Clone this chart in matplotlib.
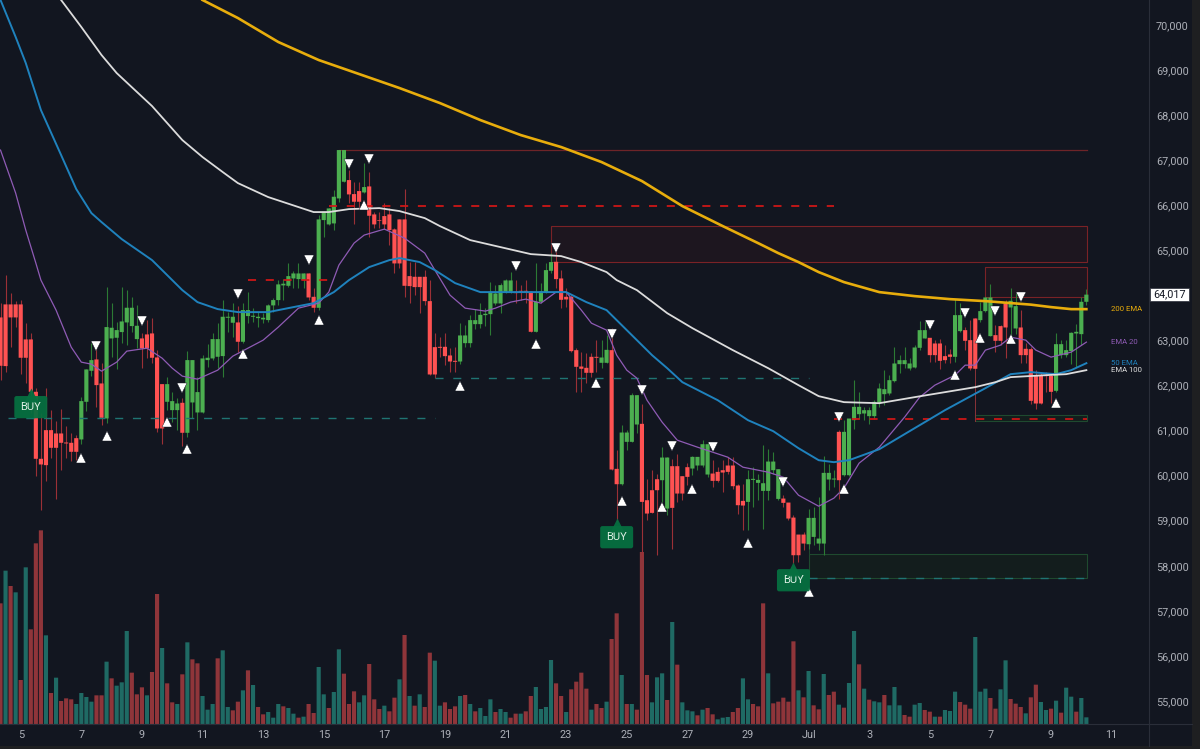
import matplotlib
matplotlib.use("Agg")

import matplotlib.pyplot as plt
from matplotlib.patches import Rectangle
from matplotlib.transforms import blended_transform_factory

plt.rcParams["font.family"] = ["Roboto", "DejaVu Sans"]
plt.rcParams["lines.scale_dashes"] = False

# 4h candles
opens = [63511, 63800, 63800, 63800, 63800, 63023, 63023, 61861, 60374, 61010,
         61010, 60936, 60936, 60736, 60729, 60832, 60803, 61639, 62327, 62579,
         62046, 61269, 63045, 63060, 63186, 63400, 63319, 63030, 63045, 63134,
         63156, 62623, 62031, 61639, 61454, 61454, 61617, 60951, 61624, 61402,
         61402, 62564, 62601, 62638, 62653, 63504, 63393, 63400, 62971, 63541,
         63526, 63496, 63467, 63452, 63778, 63896, 64222, 64213, 64376, 64361,
         64339, 64487, 63969, 63725, 65671, 65575, 65597, 66152, 66522, 66559,
         66248, 66315, 66285, 66418, 65797, 65671, 65760, 65797, 65464, 65686,
         65686, 64428, 64413, 64413, 64413, 63873, 62852, 62859, 62859, 62667,
         62548, 62533, 62940, 62940, 63362, 63362, 63562, 63584, 63821, 63821,
         64080, 64080, 64080, 64102, 64102, 64080, 63192, 63858, 64065, 64546,
         64746, 64376, 63969, 63969, 62785, 62422, 62393, 62637, 62637, 62504,
         62504, 62785, 60151, 59810, 60750, 60750, 61135, 61150, 59455, 59677,
         59921, 59899, 59270, 60210, 60210, 59988, 60188, 60158, 60225, 60225,
         60025, 60047, 60084, 60121, 60225, 60225, 59781, 59440, 59418, 59906,
         59840, 59662, 59662, 60121, 59484, 59492, 59403, 59070, 58693, 58693,
         58478, 58641, 58493, 58493, 59914, 59914, 60972, 60010, 60010, 61231,
         61364, 61379, 61320, 61320, 61616, 61808, 61823, 62097, 62474, 62474,
         62378, 62400, 62837, 63044, 63059, 62933, 62933, 62652, 62689, 62637,
         63207, 63229, 63007, 63488, 63451, 63651, 63096, 63118, 63318, 63821,
         63732, 63266, 63288, 62815, 62807, 62230, 62230, 62230, 62215, 61882,
         62674, 62674, 62763, 63155, 63140, 63858]
closes = [62438, 62431, 63511, 63511, 62616, 62616, 61861, 60374, 60248, 60233,
          60618, 60618, 60729, 60714, 60529, 60529, 61654, 62357, 62564, 62009,
          61284, 63297, 63282, 63230, 63422, 63726, 63726, 63326, 62823, 62823,
          62616, 61047, 61047, 62031, 61654, 61602, 60951, 62564, 62564, 61854,
          62601, 62616, 63030, 63030, 63526, 63526, 63526, 62971, 63674, 63674,
          63548, 63526, 63504, 63778, 63896, 64244, 64259, 64428, 64487, 64487,
          64487, 63954, 63725, 65686, 65856, 65930, 66189, 67225, 67225, 66241,
          66078, 66078, 66404, 65767, 65575, 65656, 65575, 65449, 64709, 64709,
          64213, 64206, 64184, 64184, 63873, 62245, 62245, 62837, 62652, 62533,
          62526, 63111, 63111, 63451, 63451, 63569, 63592, 64080, 64043, 64228,
          64332, 64332, 64050, 64080, 64080, 63192, 63858, 64087, 64561, 64739,
          64361, 63902, 63910, 62763, 62415, 62371, 62282, 62282, 62615, 62622,
          62792, 60136, 59810, 60957, 60957, 61786, 61786, 59418, 59159, 59174,
          59677, 60402, 60402, 59285, 59603, 59603, 59973, 60417, 60417, 60698,
          60698, 59884, 59884, 60069, 60084, 59766, 59344, 59337, 59921, 59929,
          59906, 59832, 60313, 60313, 60143, 59396, 59048, 58234, 58234, 58493,
          59063, 59063, 58604, 60062, 60062, 59936, 59899, 60972, 61268, 61527,
          61527, 61453, 61453, 61638, 61934, 61919, 62119, 62489, 62563, 62563,
          62489, 62844, 63229, 63229, 62674, 62674, 62548, 62563, 62637, 63562,
          63562, 62992, 62378, 62371, 63651, 63954, 63954, 62992, 62992, 63288,
          63880, 63762, 62674, 62674, 61660, 61601, 61601, 62208, 61860, 62918,
          62918, 62785, 63170, 63192, 63858, 64017]
highs = [63822, 64450, 64044, 63874, 63896, 63393, 63171, 61935, 61380, 61935,
         61454, 61210, 61469, 61106, 60936, 60899, 61750, 62357, 62934, 62823,
         62490, 64177, 63822, 63415, 64177, 64118, 63970, 63785, 63156, 63452,
         63489, 62786, 62031, 62194, 61861, 61713, 61713, 62771, 62564, 62194,
         62675, 62912, 63171, 63378, 63896, 63637, 63822, 63763, 63837, 64081,
         63711, 63637, 63600, 63800, 63933, 64340, 64355, 64709, 64550, 64709,
         64487, 64487, 64154, 65782, 65856, 65930, 66337, 67225, 67225, 66781,
         66522, 66522, 66929, 66744, 65856, 65856, 66041, 65930, 65486, 65686,
         66352, 64746, 64746, 64413, 64561, 64339, 63170, 63081, 63155, 62822,
         62844, 63377, 63333, 63562, 63695, 63821, 63710, 64302, 64228, 64265,
         64354, 64524, 64339, 64228, 64339, 64095, 64724, 64265, 64709, 64931,
         65123, 64561, 64154, 64006, 62822, 62748, 62711, 62711, 63007, 63007,
         63118, 63266, 60565, 61135, 61009, 61823, 61786, 61601, 59936, 60121,
         60047, 60639, 60417, 60380, 60491, 59988, 60284, 60432, 60417, 60802,
         60750, 60343, 60195, 60343, 60417, 60417, 59825, 59825, 60121, 60195,
         60047, 60676, 60602, 60528, 60158, 59566, 59403, 59122, 58693, 58752,
         59270, 59307, 59529, 60432, 60269, 60121, 61009, 61231, 61268, 62119,
         61860, 61527, 61527, 61675, 62060, 62341, 62230, 62859, 62674, 62859,
         62600, 62896, 63436, 63436, 63059, 63007, 63022, 62896, 62800, 63910,
         63821, 63303, 63451, 63488, 63858, 63969, 64243, 63340, 63340, 63895,
         64169, 64043, 63673, 62933, 62859, 62341, 62304, 62304, 62267, 63170,
         63007, 63007, 63192, 63362, 63969, 64132]
lows = [62120, 62305, 62860, 63304, 62246, 62046, 61380, 59996, 59234, 59878,
        60381, 59471, 60122, 60381, 60322, 60344, 60692, 61439, 62209, 61528,
        61121, 61158, 62638, 62357, 62934, 62897, 63193, 62823, 62379, 62601,
        62490, 60973, 60692, 61454, 61195, 61010, 60662, 60862, 61269, 61010,
        61380, 62416, 62564, 62379, 62194, 63193, 63082, 62749, 62934, 63378,
        63415, 63304, 63378, 63415, 63637, 63785, 63896, 64191, 64154, 64154,
        64154, 63895, 63621, 63673, 65301, 65560, 65449, 66063, 66522, 66041,
        65582, 65967, 66263, 65286, 65486, 65486, 65464, 65116, 64487, 64598,
        63969, 63821, 64006, 63599, 63784, 62230, 62171, 62637, 62452, 62304,
        62304, 62474, 62859, 62859, 63244, 63266, 63318, 63118, 63784, 63599,
        64058, 64043, 63821, 63895, 63821, 63185, 63192, 63821, 64043, 64487,
        64154, 63710, 63747, 62748, 61860, 61860, 62045, 62193, 62304, 62378,
        62489, 60121, 58974, 59788, 60565, 60750, 60950, 58197, 59011, 59174,
        58234, 59418, 59122, 58382, 59418, 59455, 59788, 60010, 60121, 60195,
        59973, 59751, 59862, 59640, 60047, 59714, 59159, 58789, 58789, 59307,
        59455, 58826, 59455, 60047, 59455, 59307, 59011, 58049, 58086, 58345,
        58382, 58456, 58345, 58234, 59677, 59751, 59492, 59988, 59988, 61046,
        61268, 61231, 61157, 61268, 61527, 61564, 61786, 62082, 62267, 62378,
        62341, 62378, 62785, 63044, 62526, 62526, 62363, 62489, 62504, 62526,
        63192, 62785, 62341, 62356, 63414, 63636, 63096, 62748, 62896, 62600,
        62933, 63140, 62489, 62489, 61601, 61468, 61586, 61860, 61616, 61860,
        62600, 62637, 62474, 62400, 62896, 63784]

# volume in arbitrary units, its colour does not follow the candle colour
volumes = [362, 460, 414, 395, 132, 470, 284, 542, 581, 266,
           93, 139, 69, 77, 74, 60, 93, 81, 67, 86,
           86, 187, 137, 115, 125, 279, 154, 89, 110, 86,
           156, 390, 228, 122, 65, 60, 149, 245, 194, 182,
           84, 43, 60, 197, 221, 51, 41, 67, 101, 161,
           117, 51, 29, 36, 19, 60, 53, 48, 31, 19,
           22, 60, 33, 171, 89, 48, 96, 224, 151, 60,
           98, 65, 86, 180, 74, 45, 55, 38, 79, 134,
           267, 84, 55, 89, 51, 214, 190, 55, 65, 45,
           53, 84, 87, 60, 38, 48, 24, 74, 36, 45,
           36, 19, 31, 31, 38, 84, 111, 45, 51, 192,
           122, 84, 36, 104, 127, 154, 106, 43, 60, 48,
           67, 255, 332, 147, 60, 60, 43, 516, 147, 65,
           140, 152, 72, 306, 178, 65, 41, 38, 26, 43,
           48, 29, 14, 19, 21, 36, 48, 137, 74, 60,
           53, 362, 152, 62, 67, 79, 67, 248, 101, 80,
           159, 56, 44, 150, 87, 97, 58, 49, 123, 279,
           179, 106, 73, 68, 65, 87, 56, 111, 56, 27,
           22, 58, 63, 42, 37, 22, 22, 42, 39, 97,
           66, 58, 46, 261, 97, 106, 78, 46, 104, 191,
           75, 61, 51, 32, 80, 118, 66, 42, 46, 70,
           34, 109, 82, 37, 78, 20]
volume_sides = ("RGRGRGRRRG" "RGRRRGGGGR" "RGRGGGRRRG" "RRGRRGRGRR"
                "GGGRGGRRGR" "GRRGGGRGGR" "GRRGGRGGRR" "RGGRRRGRRG"
                "RGRGRRGGRR" "RGRGRGGGRG" "GRRGRRGGGG" "RRGRRRRGRR"
                "GRRGRGRRRG" "GGRGRGGGRG" "RRGGGRRGGR" "RRGRRRRRGR"
                "GRRGRRGRGG" "RGRGGRGGGR" "RGGRRGRGGG" "RRRGGGRRGG"
                "RRRGRRGGRG" "RGGRGG")

# moving averages, sampled at these candle indexes
ema200_idx = [40, 47, 55, 63, 71, 79, 87, 95, 103, 111, 119, 127, 135, 143, 150, 154, 158, 162,
              167, 174, 181, 188, 195, 204, 208, 212, 215]
ema200 = [70555, 70155, 69623, 69223, 68912, 68601, 68268, 67891, 67558, 67292, 66959, 66537,
          65982, 65538, 65160, 64938, 64739, 64517, 64295, 64073, 63984, 63917, 63873, 63795,
          63740, 63695, 63695]
ema100_idx = [12, 16, 20, 23, 30, 36, 40, 44, 47, 53, 59, 62, 65, 69, 75, 79, 84, 87, 93, 105,
              111, 115, 120, 122, 126, 132, 137, 145, 152, 158, 162, 167, 174, 181, 187, 193,
              197, 200, 207, 211, 215]
ema100 = [70555, 69956, 69334, 68934, 68202, 67447, 67070, 66737, 66492, 66182, 65960, 65849,
          65849, 65915, 65937, 65871, 65715, 65538, 65227, 64916, 64872, 64739, 64517, 64339,
          64117, 63606, 63273, 62785, 62385, 62008, 61764, 61631, 61608, 61742, 61853, 61964,
          62075, 62186, 62230, 62252, 62341]
ema50_idx = [0, 3, 5, 8, 12, 15, 18, 20, 24, 30, 31, 36, 39, 43, 47, 53, 58, 62, 66, 69, 73, 77,
             79, 83, 86, 90, 95, 102, 112, 116, 120, 125, 129, 132, 135, 142, 148, 153, 158,
             162, 165, 168, 174, 180, 187, 195, 200, 204, 209, 212, 215]
ema50 = [70555, 69734, 69156, 68113, 67114, 66359, 65826, 65627, 65249, 64783, 64672, 64117,
         63851, 63696, 63629, 63629, 63740, 63828, 64073, 64339, 64628, 64783, 64828, 64739,
         64561, 64273, 64073, 64073, 64073, 63851, 63673, 63118, 62674, 62385, 62075, 61675,
         61231, 60987, 60609, 60343, 60299, 60343, 60587, 60987, 61453, 61941, 62252, 62297,
         62252, 62341, 62496]
ema20_idx = [0, 3, 5, 7, 8, 11, 14, 16, 18, 20, 23, 25, 29, 32, 34, 36, 39, 43, 46, 52, 55, 59,
             63, 65, 67, 70, 72, 76, 80, 84, 86, 89, 92, 96, 98, 101, 104, 107, 110, 112, 115,
             117, 120, 122, 124, 126, 128, 131, 134, 138, 144, 147, 152, 155, 158, 162, 165,
             167, 170, 174, 179, 182, 185, 189, 191, 193, 195, 198, 200, 203, 205, 208, 212,
             215]
ema20 = [67225, 66270, 65449, 64716, 64339, 63673, 62852, 62519, 62474, 62319, 62519, 62763,
         62829, 62607, 62385, 62208, 62141, 62341, 62652, 63007, 63296, 63717, 63828, 64073,
         64672, 65160, 65338, 65471, 65271, 64938, 64561, 64006, 63717, 63651, 63717, 63851,
         63917, 63828, 64073, 64073, 63673, 63384, 63229, 62674, 62341, 62163, 61675, 61187,
         60787, 60632, 60410, 60188, 60077, 59966, 59566, 59322, 59500, 59722, 60277, 60632,
         61298, 61742, 62008, 62230, 62452, 62452, 62785, 62896, 63074, 63007, 62785, 62630,
         62741, 62963]

# signal markers
up_idx = [16, 21, 33, 37, 48, 63, 72, 91, 106, 118, 123, 131, 137, 148, 160, 167, 189, 194, 200, 209]
up_price = [60387, 60876, 61187, 60587, 62696, 63451, 66004, 61986, 62918, 62052, 59433, 59300,
            59699, 58500, 57413, 59699, 62230, 63051, 63029, 61608]
down_idx = [19, 28, 36, 47, 61, 69, 73, 102, 110, 121, 127, 133, 141, 155, 166, 184, 191, 197, 202]
down_price = [62874, 63429, 61941, 64028, 64783, 66914, 67025, 64650, 65049, 63140, 61897, 60654,
              60632, 59855, 61298, 63340, 63606, 63651, 63962]
buy_idx = [6, 122, 157]
buy_price = [61520, 58634, 57679]

date_labels = ["5", "7", "9", "11", "13", "15", "17", "19", "21", "23", "25", "27", "29",
               "Jul", "3", "5", "7", "9", "11"]
# 64,000 sits behind the last price tag in the reference
price_ticks = [p for p in range(55000, 70001, 1000) if p != 64000]
last_price = 64017
last_idx = 215

BG = "#121620"
TEXT = "#adb0b8"

fig = plt.figure(figsize=(12, 7.49), dpi=100, facecolor="#1e1f21")
fig.add_artist(Rectangle((0, 3 / 749), 1192 / 1200, 746 / 749, transform=fig.transFigure,
                         fc=BG, ec="none", zorder=-5))

ax_vol = fig.add_axes([0, 25 / 749, 1149 / 1200, 724 / 749])
ax = fig.add_axes([0, 25 / 749, 1149 / 1200, 724 / 749], sharex=ax_vol)
ax.patch.set_visible(False)
ax_vol.patch.set_visible(False)
ax_vol.set_ylim(0, 2172)
ax_vol.axis("off")
ax.set_xlim(-0.1, 227.4)
ax.set_ylim(54489, 70555)

# volume under everything
for i, v in enumerate(volumes):
    col = "#1f6a64" if volume_sides[i] == "G" else "#8f353a"
    ax_vol.bar(i, v, width=0.82, color=col, linewidth=0, snap=False)

# zones
right_end = last_idx + 0.2
zones = [(109, 65538, 64739, "#1d161f", "#7a2226"),
         (195, 64628, 63962, "#1d161f", "#7a2226"),
         (160, 58256, 57723, "#131d1d", "#1f4a2f"),
         (193, 61342, 61209, "#131d1d", "#1f4a2f")]
for left, top, bottom, fc, ec in zones:
    ax.add_patch(Rectangle((left, bottom), right_end - left, top - bottom, fc=fc, ec=ec,
                           lw=0.8, zorder=1))
ax.plot([67, right_end], [67225, 67225], color="#6e2428", lw=0.9, zorder=1)
ax.plot([193, 193], [62371, 61209], color="#8a3338", lw=0.7, zorder=1)
ax.plot([160, 160], [58493, 57723], color="#1f4a2f", lw=0.7, zorder=1)

# candles
for i in range(len(opens)):
    up = closes[i] >= opens[i]
    ax.vlines(i, lows[i], highs[i], color="#2c7a34" if up else "#9b3036", lw=0.8, zorder=3)
    ax.bar(i, abs(closes[i] - opens[i]), bottom=min(opens[i], closes[i]), width=0.82,
           color="#4caf50" if up else "#ff5252", linewidth=0, snap=False, zorder=4)

# dashed levels
dash = (0, (5.8, 7))
ax.plot([1.5, 86], [61282, 61282], color="#1f7472", lw=1, ls=dash, zorder=5)
ax.plot([86, 160], [62163, 62163], color="#1f7472", lw=1, ls=dash, zorder=5)
ax.plot([160, right_end], [57723, 57723], color="#1f7472", lw=1, ls=dash, zorder=5)
ax.plot([65, 165], [65982, 65982], color="#d41616", lw=1.25, ls=dash, zorder=5)
ax.plot([49, 65], [64339, 64339], color="#d41616", lw=1.25, ls=dash, zorder=5)
ax.plot([165, right_end], [61260, 61260], color="#d41616", lw=1.25, ls=dash, zorder=5)

# EMAs
ax.plot(ema20_idx, ema20, color="#8f5bb5", lw=0.9, zorder=6)
ax.plot(ema50_idx, ema50, color="#1f82bd", lw=1.4, zorder=6)
ax.plot(ema100_idx, ema100, color="#dcdcdc", lw=1.3, zorder=6)
ax.plot(ema200_idx, ema200, color="#e8ad0c", lw=1.9, zorder=6)

# signal triangles
ax.plot(up_idx, up_price, ls="none", marker="^", ms=7, mfc="white", mec=BG, mew=0.3, zorder=7)
ax.plot(down_idx, down_price, ls="none", marker="v", ms=7, mfc="white", mec=BG, mew=0.3, zorder=7)

# BUY flags
for i, p in zip(buy_idx, buy_price):
    ax.text(i, p, "BUY", color="#dcefe3", fontsize=8, ha="center", va="center", zorder=8,
            bbox=dict(boxstyle="round,pad=0.55,rounding_size=0.2", fc="#067040", ec="none", alpha=0.94))
    ax.plot([i], [p + 260], marker="^", ms=10, mfc="#067040", mec="none", alpha=0.94, zorder=8)

# EMA names to the right of the last candle
ax.text(219.9, 63695, "200 EMA", color="#e8ad0c", fontsize=5.6, va="center")
ax.text(219.9, 62963, "EMA 20", color="#8f5bb5", fontsize=5.6, va="center")
ax.text(219.9, 62496, "50 EMA", color="#1f82bd", fontsize=5.6, va="center")
ax.text(219.9, 62341, "EMA 100", color="#dcdcdc", fontsize=5.6, va="center")

# axes
ax.yaxis.tick_right()
ax.set_yticks(price_ticks)
ax.set_yticklabels([f"{p:,}" for p in price_ticks])
ax.set_xticks([4 + 12 * k for k in range(len(date_labels))])
ax.set_xticklabels(date_labels)
ax.tick_params(axis="y", length=0, pad=5, labelsize=7.8, labelcolor=TEXT)
ax.tick_params(axis="x", length=0, pad=4, labelsize=7.8, labelcolor=TEXT)
for side in ("top", "left"):
    ax.spines[side].set_visible(False)
for side in ("right", "bottom"):
    ax.spines[side].set_color("#2a2e39")
    ax.spines[side].set_linewidth(0.8)
# the price scale line runs down through the date strip too
fig.add_artist(plt.Line2D([1149 / 1200, 1149 / 1200], [3 / 749, 25 / 749], color="#2a2e39", lw=0.8))
fig.add_artist(plt.Line2D([1149 / 1200, 1192 / 1200], [25 / 749, 25 / 749], color="#2a2e39", lw=0.8))

# last price tag
tag = blended_transform_factory(ax.transAxes, ax.transData)
ax.add_patch(Rectangle((1.0005, last_price - 150), 0.0345, 300, transform=tag, fc="white",
                       ec="#2a2e39", lw=0.5, clip_on=False, zorder=9))
ax.text(1.0178, last_price, f"{last_price:,}", transform=tag, color="#131722", fontsize=7.8,
        ha="center", va="center", clip_on=False, zorder=10)

fig.savefig("out.png", dpi=100, facecolor=fig.get_facecolor())
